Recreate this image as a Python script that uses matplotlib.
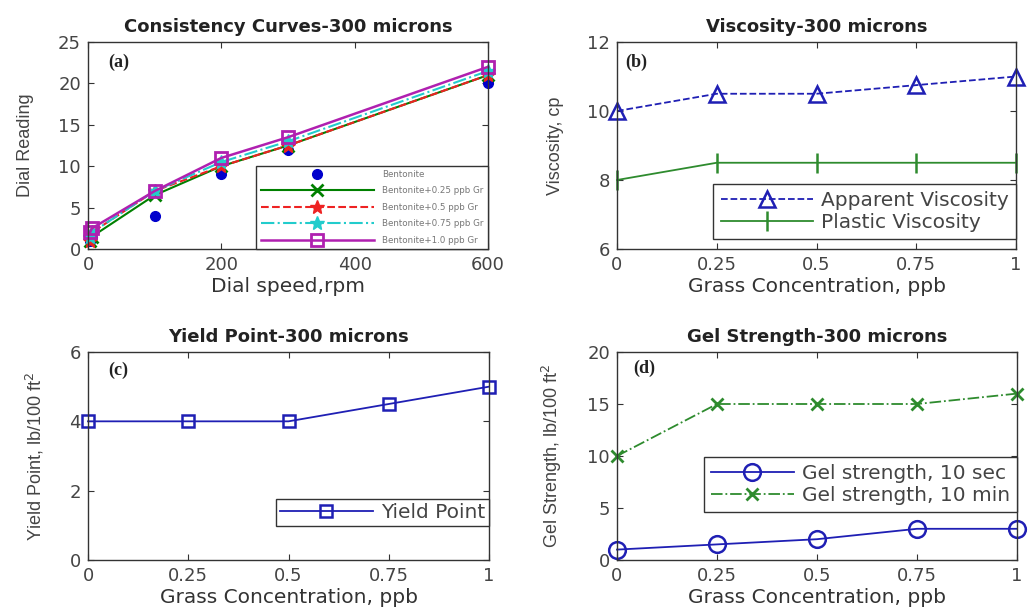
import numpy as np
import matplotlib
matplotlib.use('Agg')
import matplotlib.pyplot as plt

# (a) consistency curves
rpm = [3, 6, 100, 200, 300, 600]
bentonite = [1, 1.5, 4, 9, 12, 20]
gr_025 = [1, 1.5, 6.5, 10, 12.5, 21]
gr_05 = [1, 2, 7, 10, 12.5, 21]
gr_075 = [1.5, 2, 7, 10.5, 13, 21.5]
gr_10 = [2, 2.5, 7, 11, 13.5, 22]
consistency_labels = ['Bentonite', 'Bentonite+0.25 ppb Gr', 'Bentonite+0.5 ppb Gr',
                      'Bentonite+0.75 ppb Gr', 'Bentonite+1.0 ppb Gr']

# (b)-(d) against grass concentration
conc = [0, 0.25, 0.5, 0.75, 1]
conc_ticks = ['0', '0.25', '0.5', '0.75', '1']
apparent_visc = [10, 10.5, 10.5, 10.75, 11]
plastic_visc = [8, 8.5, 8.5, 8.5, 8.5]
yield_point = [4, 4, 4, 4.5, 5]
gel_10s = [1, 1.5, 2, 3, 3]
gel_10m = [10, 15, 15, 15, 16]

BLUE = '#1f1fb4'
GREEN = '#2e8b2e'
TXT = '#333333'

plt.rcParams['font.family'] = 'DejaVu Sans'
plt.rcParams['axes.edgecolor'] = TXT
plt.rcParams['axes.linewidth'] = 1.0

W, H = 1028, 610
fig = plt.figure(figsize=(W / 100, H / 100), dpi=100)


def make_axes(x0, x1, ytop, ybot):
    return fig.add_axes([x0 / W, (H - ybot) / H, (x1 - x0) / W, (ybot - ytop) / H])


def style(ax, title, xlabel, ylabel, tag, tx, ty):
    ax.set_title(title, fontsize=13, fontweight='bold', color='#222222', pad=7)
    ax.set_xlabel(xlabel, fontsize=14.5, color=TXT, labelpad=2)
    ax.set_ylabel(ylabel, fontsize=13, family='Liberation Sans', color='#444444', labelpad=17)
    ax.tick_params(direction='in', top=True, right=True, length=4, width=0.8,
                   labelsize=13, labelcolor='#444444', colors=TXT, pad=5)
    ax.text(tx, ty, tag, transform=ax.transAxes, fontsize=13, fontweight='bold',
            family='Liberation Serif', color='#222222', va='center')


def add_legend(ax, ypos, **kw):
    opts = dict(loc='lower right', bbox_to_anchor=(1, ypos), borderaxespad=0, fontsize=14.5,
                handlelength=4.6, fancybox=False, edgecolor=TXT, framealpha=1,
                labelspacing=0.15, borderpad=0.35, handletextpad=0.4, labelcolor='#444444')
    opts.update(kw)
    return ax.legend(**opts)


# ---- (a)
ax = make_axes(88, 488, 42, 249)
ax.plot(rpm, bentonite, 'o', color='#0000cc', ms=7, ls='none', clip_on=False, label=consistency_labels[0])
ax.plot(rpm, gr_025, '-x', color='#008000', ms=8, mew=2, lw=1.5, clip_on=False, label=consistency_labels[1])
ax.plot(rpm, gr_05, '--*', color='#ee2222', ms=10, lw=1.5, clip_on=False, label=consistency_labels[2])
ax.plot(rpm, gr_075, '-.*', color='#22cccc', ms=10, lw=1.5, clip_on=False, label=consistency_labels[3])
ax.plot(rpm, gr_10, '-s', color='#b020b0', ms=9, mfc='none', mew=2, lw=1.8, clip_on=False, label=consistency_labels[4])
ax.set_xlim(0, 600)
ax.set_ylim(0, 25)
ax.set_xticks([0, 200, 400, 600])
ax.set_yticks([0, 5, 10, 15, 20, 25])
style(ax, 'Consistency Curves-300 microns', 'Dial speed,rpm', 'Dial Reading', '(a)', 0.05, 0.9)
leg = ax.legend(loc='lower right', borderaxespad=0, fontsize=6.3, handlelength=13,
                labelspacing=0.85, fancybox=False, edgecolor=TXT, framealpha=1, borderpad=0.5,
                handletextpad=0.9)
for t in leg.get_texts():
    t.set_color('#777777')

# ---- (b)
ax = make_axes(617, 1016, 42, 249)
ax.plot(conc, apparent_visc, '--^', color=BLUE, ms=12, mfc='none', mew=1.8, lw=1.3, clip_on=False, label='Apparent Viscosity')
ax.plot(conc, plastic_visc, '-|', color=GREEN, ms=14, mew=1.8, lw=1.3, clip_on=False, label='Plastic Viscosity')
ax.set_xlim(0, 1)
ax.set_ylim(6, 12)
ax.set_xticks(conc)
ax.set_xticklabels(conc_ticks)
ax.set_yticks([6, 8, 10, 12])
style(ax, 'Viscosity-300 microns', 'Grass Concentration, ppb', 'Viscosity, cp', '(b)', 0.02, 0.9)
add_legend(ax, 0.05)

# ---- (c)
ax = make_axes(88, 489, 352, 560)
ax.plot(conc, yield_point, '-s', color=BLUE, ms=8, mfc='none', mew=1.8, lw=1.3, clip_on=False, label='Yield Point')
ax.set_xlim(0, 1)
ax.set_ylim(0, 6)
ax.set_xticks(conc)
ax.set_xticklabels(conc_ticks)
ax.set_yticks([0, 2, 4, 6])
style(ax, 'Yield Point-300 microns', 'Grass Concentration, ppb', 'Yield Point, lb/100 ft$^2$', '(c)', 0.05, 0.91)
add_legend(ax, 0.163, borderpad=0.2)

# ---- (d)
ax = make_axes(617, 1017, 352, 560)
ax.plot(conc, gel_10s, '-o', color=BLUE, ms=12, mfc='none', mew=1.8, lw=1.3, clip_on=False, label='Gel strength, 10 sec')
ax.plot(conc, gel_10m, '-.x', color=GREEN, ms=8, mew=2, lw=1.3, clip_on=False, label='Gel strength, 10 min')
ax.set_xlim(0, 1)
ax.set_ylim(0, 20)
ax.set_xticks(conc)
ax.set_xticklabels(conc_ticks)
ax.set_yticks([0, 5, 10, 15, 20])
style(ax, 'Gel Strength-300 microns', 'Grass Concentration, ppb', 'Gel Strength, lb/100 ft$^2$', '(d)', 0.04, 0.92)
add_legend(ax, 0.23, handlelength=4.1)

fig.savefig('out.png', dpi=100, facecolor='white')
